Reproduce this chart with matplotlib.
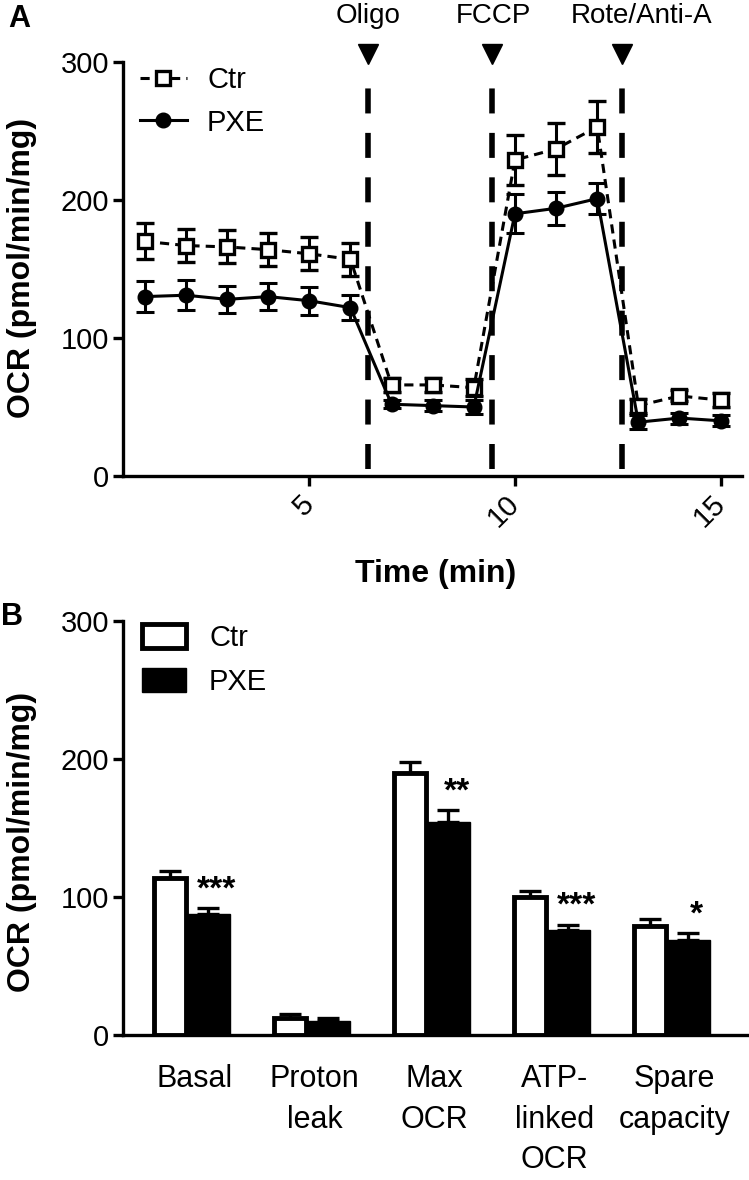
import numpy as np
import matplotlib
matplotlib.use("Agg")
import matplotlib.pyplot as plt
from matplotlib.lines import Line2D
from matplotlib.patches import Patch

plt.rcParams['font.family'] = ['Liberation Sans', 'DejaVu Sans']

# ---- panel A data: OCR time course ----
time = [1, 2, 3, 4, 5, 6, 7, 8, 9, 10, 11, 12, 13, 14, 15]
ctr_ocr = [170, 167, 166, 164, 161, 157, 66, 66, 64, 229, 237, 253, 51, 58, 55]
ctr_err = [13, 12, 12, 12, 12, 12, 5, 5, 6, 18, 19, 19, 5, 4, 5]
pxe_ocr = [130, 131, 128, 130, 127, 122, 52, 51, 50, 190, 194, 201, 39, 42, 40]
pxe_err = [11, 11, 10, 10, 10, 9, 3, 4, 5, 14, 12, 11, 5, 4, 4]

inject_x = [6.43, 9.44, 12.6]
inject_labels = ["Oligo", "FCCP", "Rote/Anti-A"]
inject_text_dx = [0, 1, 14]  # points

# ---- panel B data: derived parameters ----
params = ["Basal", "Proton\nleak", "Max\nOCR", "ATP-\nlinked\nOCR", "Spare\ncapacity"]
ctr_bar = [114, 12, 190, 100, 79]
ctr_bar_err = [5, 3, 8, 4, 5]
pxe_bar = [88, 10, 154, 76, 69]
pxe_bar_err = [4, 2, 9, 4, 5]
stars = ["***", "", "**", "***", "*"]

W, H = 749, 1180
fig = plt.figure(figsize=(W / 100, H / 100), dpi=100)

def style_axes(ax):
    for s in ['top', 'right']:
        ax.spines[s].set_visible(False)
    for s in ['left', 'bottom']:
        ax.spines[s].set_linewidth(2.4)
    ax.tick_params(axis='y', length=7, width=2.4, labelsize=21, pad=3)

# ================= Panel A =================
axA = fig.add_axes([123 / W, 1 - 476 / H, (742 - 123) / W, (476 - 62) / H])
style_axes(axA)
axA.set_xlim(0.47, 15.52)
axA.set_ylim(0, 300)
axA.set_yticks([0, 100, 200, 300])
axA.set_xticks([5, 10, 15])
axA.tick_params(axis='x', length=7, width=2.4, labelsize=21, pad=10)
for lab in axA.get_xticklabels():
    lab.set_rotation(45)
    lab.set_rotation_mode('anchor')
    lab.set_ha('right')
    lab.set_va('center')

for xv in inject_x:
    axA.plot([xv, xv], [5, 284], color='black', lw=4, ls=(0, (4.5, 3.5)), zorder=1)
    axA.plot([xv], [306], marker='v', ms=14, color='black', clip_on=False)
for xv, lab, dx in zip(inject_x, inject_labels, inject_text_dx):
    axA.annotate(lab, xy=(xv, 333), xytext=(dx, 0), textcoords='offset points',
                 ha='center', va='center', fontsize=20, annotation_clip=False)

axA.errorbar(time, ctr_ocr, yerr=ctr_err, color='black', ls=(0, (3, 2)), lw=2.2,
             marker='s', ms=10.5, mfc='white', mec='black', mew=2.4,
             ecolor='black', elinewidth=2.2, capsize=6.5, capthick=2.2, zorder=3)
axA.errorbar(time, pxe_ocr, yerr=pxe_err, color='black', ls='-', lw=2.2,
             marker='o', ms=10.5, mfc='black', mec='black',
             ecolor='black', elinewidth=2.2, capsize=6.5, capthick=2.2, zorder=4)

handles_a = [
    Line2D([], [], color='black', ls=(0, (3, 2)), lw=2.2, marker='s', ms=10.5,
           mfc='white', mec='black', mew=2.4),
    Line2D([], [], color='black', ls='-', lw=2.2, marker='o', ms=10.5, mfc='black'),
]
axA.legend(handles_a, ["Ctr", "PXE"], loc='upper left', frameon=False, fontsize=21,
           handlelength=1.6, handletextpad=0.7, labelspacing=0.5, borderpad=0,
           borderaxespad=0, bbox_to_anchor=(140 / W, 1 - 66 / H),
           bbox_transform=fig.transFigure)

fig.text(436 / W, 1 - 574 / H, "Time (min)", ha='center', va='center',
         fontsize=23, fontweight='bold')
fig.text(22 / W, 1 - 268 / H, "OCR (pmol/min/mg)", rotation=90, ha='center',
         va='center', fontsize=23, fontweight='bold')
fig.text(8 / W, 1 - 4 / H, "A", ha='left', va='top', fontsize=22, fontweight='bold')

# ================= Panel B =================
axB = fig.add_axes([123 / W, 1 - 1035 / H, (747 - 123) / W, (1035 - 621) / H])
style_axes(axB)
axB.set_xlim(-0.525, 4.675)
axB.set_ylim(0, 300)
axB.set_yticks([0, 100, 200, 300])

x = np.arange(len(params))
w_ctr, w_pxe = 0.27, 0.37
axB.bar(x - w_ctr, ctr_bar, width=w_ctr, align='edge', color='white',
        edgecolor='black', linewidth=3.5, zorder=2)
axB.bar(x, pxe_bar, width=w_pxe, align='edge', color='black',
        edgecolor='black', linewidth=1, zorder=2)
axB.errorbar(x - w_ctr / 2, ctr_bar, yerr=[np.zeros(len(x)), ctr_bar_err], fmt='none',
             ecolor='black', elinewidth=2.4, capsize=8, capthick=2.4, zorder=1)
axB.errorbar(x + w_pxe / 2, pxe_bar, yerr=[np.zeros(len(x)), pxe_bar_err], fmt='none',
             ecolor='black', elinewidth=2.4, capsize=8, capthick=2.4, zorder=1)

for xi, v, e, s in zip(x, pxe_bar, pxe_bar_err, stars):
    if s:
        axB.annotate(s, xy=(xi + w_pxe / 2, v + e), xytext=(6, 2),
                     textcoords='offset points', ha='center', va='bottom',
                     fontsize=24, fontweight='bold')

axB.set_xticks(x + 0.07)
axB.set_xticklabels(params, fontsize=22, linespacing=1.45)
axB.tick_params(axis='x', length=0, pad=21)

handles_b = [Patch(facecolor='white', edgecolor='black', linewidth=3.5),
             Patch(facecolor='black', edgecolor='black')]
axB.legend(handles_b, ["Ctr", "PXE"], loc='upper left', frameon=False, fontsize=21,
           handlelength=1.5, handleheight=0.9, handletextpad=0.8, labelspacing=0.55,
           borderpad=0, borderaxespad=0, bbox_to_anchor=(142 / W, 1 - 624 / H),
           bbox_transform=fig.transFigure)

fig.text(22 / W, 1 - 842 / H, "OCR (pmol/min/mg)", rotation=90, ha='center',
         va='center', fontsize=23, fontweight='bold')
fig.text(1 / W, 1 - 602 / H, "B", ha='left', va='top', fontsize=22, fontweight='bold')

fig.savefig("out.png", dpi=100)
